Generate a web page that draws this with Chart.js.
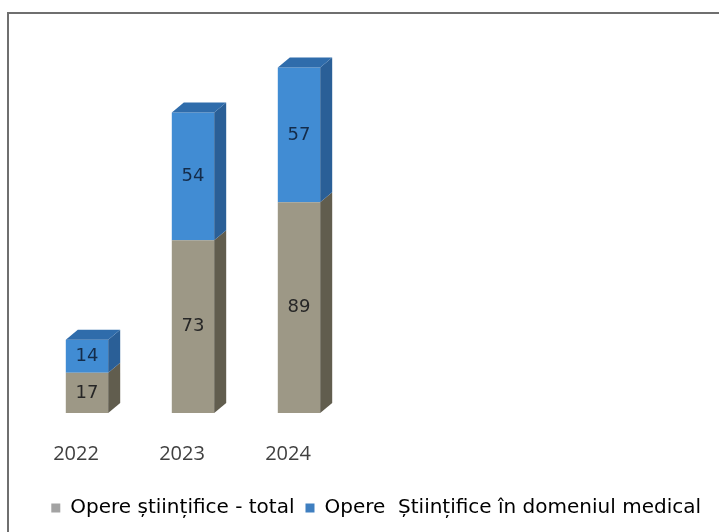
<!DOCTYPE html>
<html>
<head>
<meta charset="utf-8">
<script src="https://cdn.jsdelivr.net/npm/chart.js@4"></script>
<style>
  html, body { margin: 0; padding: 0; background: #fff; }
  #wrap { position: relative; width: 719px; height: 532px; overflow: hidden; }
  #frame { position: absolute; left: 7px; top: 12px; width: 800px; height: 600px;
           border-left: 2px solid #6f6f6f; border-top: 2px solid #6f6f6f; }
  canvas { position: absolute; left: 0; top: 0; }
</style>
</head>
<body>
<div id="wrap">
  <div id="frame"></div>
  <canvas id="c" width="719" height="532"></canvas>
</div>
<script>
const categories = ["2022", "2023", "2024"];
const seriesNames = ["Opere științifice - total", "Opere  Științifice în domeniul medical"];
const totalValues = [17, 73, 89];
const medicalValues = [14, 54, 57];

const FONT = "'Open Sans', sans-serif";
const LFONT = "'DejaVu Sans', sans-serif";
const DX = 12, DY = 10;
const palette = [
  { front: "#9d9886", side: "#615d4e", top: "#8a8574", label: "#262626" },
  { front: "#418cd3", side: "#2a5f97", top: "#2f6cab", label: "#142c4a" }
];

const bar3d = {
  id: "bar3d",
  afterDatasetsDraw(chart) {
    const ctx = chart.ctx;
    const n = chart.data.datasets.length;
    ctx.save();
    chart.data.datasets.forEach((ds, di) => {
      const meta = chart.getDatasetMeta(di);
      meta.data.forEach((el) => {
        const p = el.getProps(["x", "y", "base", "width"], true);
        const l = p.x - p.width / 2, r = p.x + p.width / 2;
        const t = Math.min(p.y, p.base), b = Math.max(p.y, p.base);
        ctx.fillStyle = palette[di].side;
        ctx.beginPath();
        ctx.moveTo(r, t); ctx.lineTo(r + DX, t - DY); ctx.lineTo(r + DX, b - DY); ctx.lineTo(r, b);
        ctx.closePath(); ctx.fill();
        if (di === n - 1) {
          ctx.fillStyle = palette[di].top;
          ctx.beginPath();
          ctx.moveTo(l, t); ctx.lineTo(l + DX, t - DY); ctx.lineTo(r + DX, t - DY); ctx.lineTo(r, t);
          ctx.closePath(); ctx.fill();
        }
      });
    });
    ctx.font = "18px " + LFONT;
    ctx.textAlign = "center";
    ctx.textBaseline = "middle";
    chart.data.datasets.forEach((ds, di) => {
      const meta = chart.getDatasetMeta(di);
      meta.data.forEach((el, i) => {
        const p = el.getProps(["x", "y", "base"], true);
        ctx.fillStyle = palette[di].label;
        ctx.fillText(String(ds.data[i]), p.x, (p.y + p.base) / 2);
      });
    });
    ctx.restore();
  }
};

new Chart(document.getElementById("c"), {
  type: "bar",
  data: {
    labels: categories,
    datasets: [
      { label: seriesNames[0], data: totalValues, backgroundColor: palette[0].front, borderWidth: 0,
        categoryPercentage: 1, barPercentage: 0.4 },
      { label: seriesNames[1], data: medicalValues, backgroundColor: palette[1].front, borderWidth: 0,
        categoryPercentage: 1, barPercentage: 0.4 }
    ]
  },
  options: {
    responsive: false,
    animation: false,
    events: [],
    layout: { padding: { left: 34, right: 7, top: 58, bottom: 4 } },
    scales: {
      x: {
        stacked: true,
        offset: true,
        grid: { display: false },
        border: { display: false },
        ticks: { color: "#404040", font: { family: FONT, size: 20 }, labelOffset: -11, padding: 21 }
      },
      y: {
        stacked: true,
        display: false,
        min: 0,
        max: 150
      },
      yR: {
        position: "right",
        display: true,
        grid: { display: false },
        border: { display: false },
        ticks: { display: false },
        afterFit(s) { s.width = 360; }
      }
    },
    plugins: {
      legend: {
        position: "bottom",
        align: "end",
        labels: {
          color: "#404040",
          font: { family: LFONT, size: 20 },
          boxWidth: 9,
          boxHeight: 9,
          padding: 11,
          generateLabels(chart) {
            return chart.data.datasets.map((ds, i) => ({
              text: ds.label, fillStyle: i === 0 ? "#a3a3a3" : "#3f7fc0",
              strokeStyle: "transparent", lineWidth: 0, datasetIndex: i, hidden: false
            }));
          }
        }
      },
      tooltip: { enabled: false }
    }
  },
  plugins: [bar3d]
});
</script>
</body>
</html>
